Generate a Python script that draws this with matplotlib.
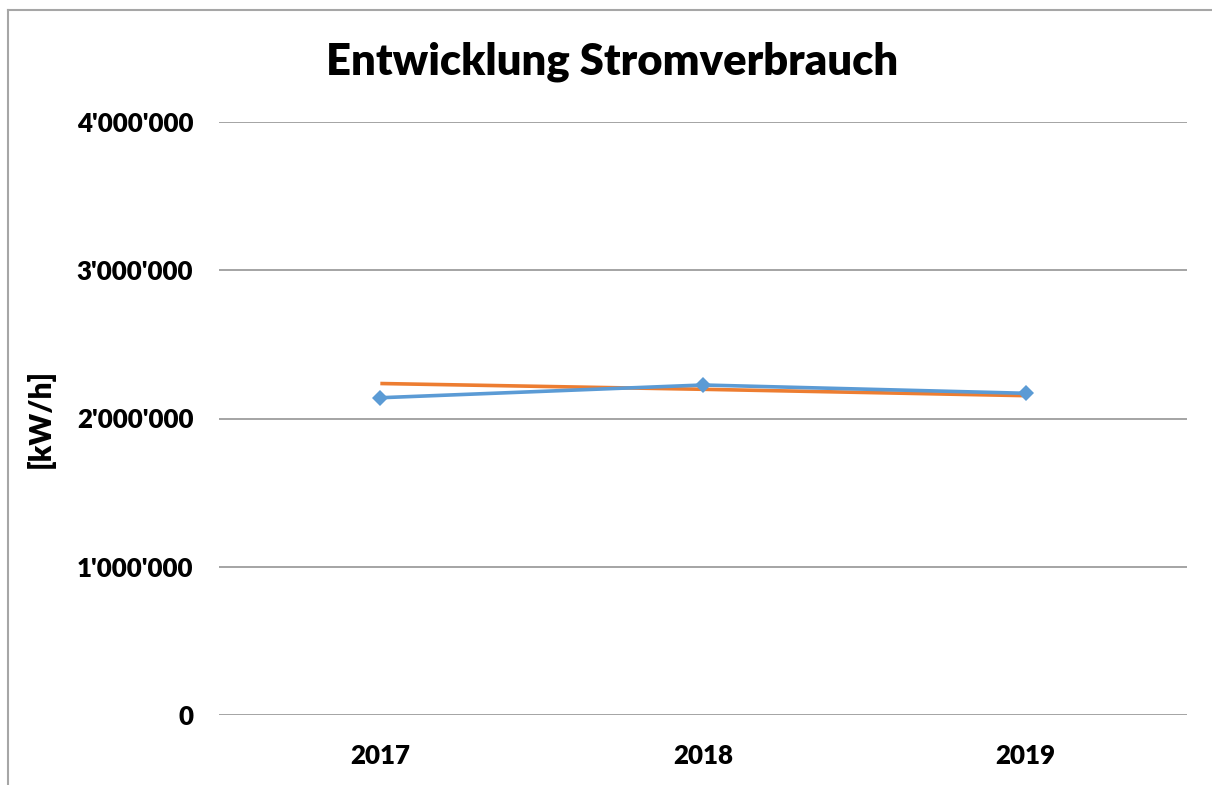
import matplotlib
matplotlib.use("Agg")
import matplotlib.pyplot as plt
from matplotlib.lines import Line2D
from matplotlib.ticker import FuncFormatter

years = ["2017", "2018", "2019"]
verbrauch = [2140000, 2226000, 2170000]
trend = [2236000, 2197000, 2154000]
y_ticks = [0, 1000000, 2000000, 3000000, 4000000]

plt.rcParams['font.family'] = ['Lato', 'DejaVu Sans']

fig = plt.figure(figsize=(12.12, 7.85), dpi=100)
ax = fig.add_axes([219/1212, 1-715/785, (1187-219)/1212, (715-122)/785])

x = list(range(len(years)))
ax.plot(x, trend, color="#ED7D31", lw=2.6, solid_capstyle='butt', zorder=3)
ax.plot(x, verbrauch, color="#5B9BD5", lw=2.6, marker="D", markersize=8.5,
        markeredgewidth=0, zorder=4)

ax.set_xlim(-0.5, 2.5)
ax.set_ylim(0, 4000000)
ax.set_yticks(y_ticks)
ax.yaxis.set_major_formatter(FuncFormatter(lambda v, p: f"{int(v):,}".replace(",", "'")))
ax.set_xticks(x)
ax.set_xticklabels(years)
ax.grid(axis='y', color="#8C8C8C", lw=1.1)
ax.set_axisbelow(True)
for s in ax.spines.values():
    s.set_visible(False)
ax.tick_params(length=0, labelsize=18.6)
for lab in ax.get_xticklabels() + ax.get_yticklabels():
    lab.set_fontweight('heavy')
ax.tick_params(axis='y', pad=18.5)
ax.tick_params(axis='x', pad=21)

fig.text(40/1212, 1-418/785, "[kW/h]", rotation=90, fontsize=21.5, fontweight='heavy',
         ha='center', va='center')
fig.text(612/1212, 1-62/785, "Entwicklung Stromverbrauch", fontsize=31.3,
         fontweight='heavy', ha='center', va='center')

# chart frame (partially cropped)
fig.add_artist(Line2D([7.5/1212, 7.5/1212], [0, 1-10/785], transform=fig.transFigure,
                      color="#A6A6A6", lw=1.5))
fig.add_artist(Line2D([7.5/1212, 1], [1-10/785, 1-10/785], transform=fig.transFigure,
                      color="#A6A6A6", lw=1.5))

fig.savefig("out.png", dpi=100)
